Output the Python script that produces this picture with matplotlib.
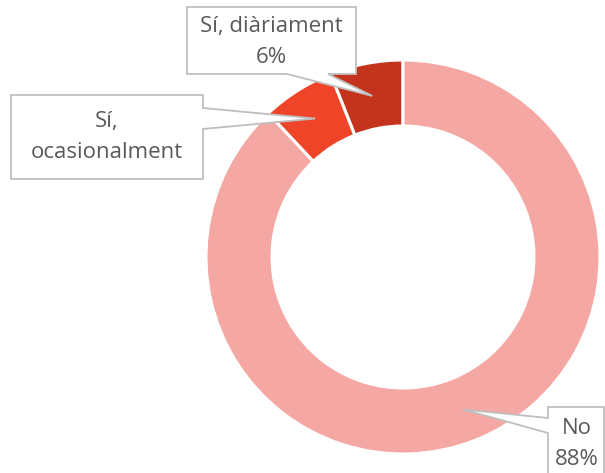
import numpy as np
import matplotlib
matplotlib.use("Agg")
import matplotlib.pyplot as plt
from matplotlib.patches import Polygon

# ---- data ----
categories = ["Sí, diàriament", "Sí, ocasionalment", "No"]
values = [6, 6, 88]
label_texts = ["Sí, diàriament\n6%", "Sí,\nocasionalment", "No\n88%"]
colors = ["#C4341D", "#EF4427", "#F5A8A3"]

W, H = 605, 473
fig = plt.figure(figsize=(W / 100, H / 100), dpi=100)
ax = fig.add_axes([0, 0, 1, 1])

def Y(yp):
    return H - yp

cx, cy = 403, Y(257)
R_out, R_in = 197, 131
ax.pie(values, colors=colors, startangle=90, counterclock=True,
       center=(cx, cy), radius=R_out,
       wedgeprops=dict(width=R_out - R_in, edgecolor="white", linewidth=2.2))
ax.set_xlim(0, W)
ax.set_ylim(0, H)
ax.set_aspect("equal")
ax.axis("off")

# tip points at mid-angle of each wedge
total = sum(values)
cum = np.cumsum([0] + values)
mid_angles = [90 + 360 * (cum[i] + values[i] / 2) / total for i in range(len(values))]
r_mid = (R_out + R_in) / 2
tips = [(cx + r_mid * np.cos(np.radians(a)), cy + r_mid * np.sin(np.radians(a))) for a in mid_angles]

# callout boxes (pixel coords, y down): x0, y0, x1, y1, edge, base start, base end
boxes = [
    (187, 7, 356, 74, "bottom", 287, 328),
    (11, 95, 203, 179, "right", 108, 129),
    (548, 407, 604, 480, "left", 418, 433),
]
text_centers = [(271, 42), (107, 137), (577, 444)]

edge_col = "#BFBFBF"
for (x0, y0, x1, y1, edge, b0, b1), tip, lab, tc in zip(boxes, tips, label_texts, text_centers):
    tx, ty = tip
    if edge == "bottom":
        pts = [(x0, Y(y0)), (x1, Y(y0)), (x1, Y(y1)), (b1, Y(y1)), (tx, ty), (b0, Y(y1)), (x0, Y(y1))]
    elif edge == "right":
        pts = [(x0, Y(y0)), (x1, Y(y0)), (x1, Y(b0)), (tx, ty), (x1, Y(b1)), (x1, Y(y1)), (x0, Y(y1))]
    else:
        pts = [(x0, Y(y0)), (x1, Y(y0)), (x1, Y(y1)), (x0, Y(y1)), (x0, Y(b1)), (tx, ty), (x0, Y(b0))]
    poly = Polygon(pts, closed=True, facecolor="white", edgecolor=edge_col, linewidth=1.3, zorder=5, clip_on=False)
    ax.add_patch(poly)
    ax.text(tc[0], Y(tc[1]), lab, ha="center", va="center", fontsize=16,
            color="#595959", family=["Open Sans", "DejaVu Sans"], linespacing=1.68, zorder=6)

fig.savefig("out.png", dpi=100)
